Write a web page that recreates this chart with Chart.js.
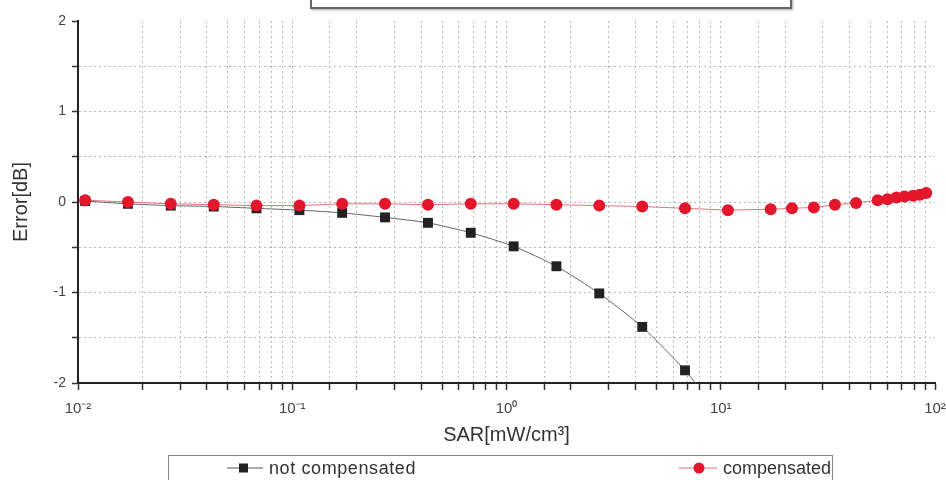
<!DOCTYPE html>
<html>
<head>
<meta charset="utf-8">
<script src="https://cdn.jsdelivr.net/npm/chart.js@4"></script>
<style>
	html, body { margin: 0; padding: 0; background: #fff; }
	#wrap { position: relative; width: 946px; height: 480px; overflow: hidden; font-family: "Liberation Sans", Arial, sans-serif; }
	#topBox { position: absolute; left: 310px; top: -12px; width: 478px; height: 17px; border: 2px solid #666; box-shadow: 1px 1px 2px #aaa; }
	#legendBox { position: absolute; left: 168px; top: 455px; width: 663px; height: 24px; border: 1px solid #888; }
	.item { position: absolute; top: 0; height: 24px; line-height: 24px; font-size: 18px; color: #333; white-space: nowrap; }
	.item svg { position: absolute; top: 2px; left: 0; }
	.item span { position: absolute; left: 44px; top: 0; }
</style>
</head>
<body>
<div id="wrap">
	<canvas id="errChart" width="946" height="480"></canvas>
	<div id="topBox"></div>
	<div id="legendBox">
		<div class="item" style="left:56px;">
			<svg width="40" height="20"><line x1="2" y1="10" x2="38" y2="10" stroke="#555" stroke-width="1.2"/><rect x="14" y="5.5" width="9" height="9" fill="#222"/></svg>
			<span style="letter-spacing:0.6px;">not compensated</span>
		</div>
		<div class="item" style="left:508px;">
			<svg width="44" height="20"><line x1="2" y1="10" x2="40" y2="10" stroke="#e8707a" stroke-width="1.2"/><circle cx="22" cy="10" r="5.5" fill="#e3162b"/></svg>
			<span style="left:46px;">compensated</span>
		</div>
	</div>
</div>
<script>
const sarNotComp = [0.0108, 0.0171, 0.0271, 0.0430, 0.0681, 0.108, 0.171, 0.271, 0.430, 0.681, 1.08, 1.71, 2.71, 4.30, 6.81, 10.8];
const errNotComp = [0.01, -0.02, -0.04, -0.05, -0.07, -0.09, -0.12, -0.17, -0.23, -0.34, -0.49, -0.71, -1.01, -1.38, -1.86, -2.45];

const sarComp = [0.0108, 0.0171, 0.0271, 0.0430, 0.0681, 0.108, 0.171, 0.271, 0.430, 0.681, 1.08, 1.71, 2.71, 4.30, 6.81,
	10.8, 17.1, 21.5, 27.2, 34.1, 42.8, 54, 60, 66, 72, 79, 85, 91];
const errComp = [0.02, 0.00, -0.02, -0.03, -0.04, -0.04, -0.02, -0.02, -0.03, -0.02, -0.02, -0.03, -0.04, -0.05, -0.07,
	-0.09, -0.08, -0.07, -0.06, -0.03, -0.01, 0.02, 0.03, 0.05, 0.06, 0.07, 0.08, 0.10];

// x축 라벨 (10의 거듭제곱만 표시)
const xTickLabels = { '-2': '10⁻²', '-1': '10⁻¹', '0': '10⁰', '1': '10¹', '2': '10²' };
const yTickValues = [-2, -1, 0, 1, 2];

const toPoints = (xs, ys) => xs.map((x, i) => ({ x: x, y: ys[i] }));

new Chart(document.getElementById('errChart'), {
	type: 'line',
	data: {
		datasets: [
			{
				label: 'not compensated',
				data: toPoints(sarNotComp, errNotComp),
				borderColor: '#666',
				backgroundColor: '#222',
				borderWidth: 1,
				pointStyle: 'rect',
				pointRadius: 7,
				pointBorderWidth: 0,
				tension: 0.2,
				order: 1
			},
			{
				label: 'compensated',
				data: toPoints(sarComp, errComp),
				borderColor: '#e8707a',
				backgroundColor: '#e3162b',
				borderWidth: 1,
				pointStyle: 'circle',
				pointRadius: 6,
				pointBorderWidth: 0,
				tension: 0,
				order: 0
			}
		]
	},
	options: {
		responsive: false,
		animation: false,
		devicePixelRatio: 1,
		layout: { padding: { top: 21, right: 11, bottom: 32, left: 0 } },
		plugins: {
			legend: { display: false },
			tooltip: { enabled: false }
		},
		scales: {
			x: {
				type: 'logarithmic',
				min: 0.01,
				max: 100,
				afterFit: function(s) { s.height = 65; s.paddingLeft = 0; s.paddingRight = 0; },
				grid: {
					color: function(ctx) {
						const v = ctx.tick ? ctx.tick.value : 0;
						return (v <= 0.01 || v >= 100) ? 'rgba(0,0,0,0)' : '#b8b8b8';
					},
					lineWidth: 1,
					tickColor: '#333',
					tickLength: 7,
					tickWidth: 1.5,
					tickBorderDash: []
				},
				border: { display: true, color: '#222', width: 2, dash: [2, 3] },
				ticks: {
					autoSkip: false,
					maxRotation: 0,
					padding: 10,
					color: '#444',
					font: { family: '"Liberation Sans", Arial', size: 15 },
					callback: function(value) {
						const l = Math.log10(value);
						if (Math.abs(l - Math.round(l)) < 1e-9) return xTickLabels[String(Math.round(l))];
						return '';
					}
				},
				title: {
					display: true,
					text: 'SAR[mW/cm³]',
					color: '#333',
					font: { family: '"Liberation Sans", Arial', size: 20 },
					padding: { top: 0, bottom: 1 }
				}
			},
			y: {
				min: -2,
				max: 2,
				afterFit: function(s) { s.width = 78; s.paddingTop = 0; s.paddingBottom = 0; },
				grid: {
					color: function(ctx) {
						const v = ctx.tick ? ctx.tick.value : 0;
						return (v >= 2 || v <= -2) ? 'rgba(0,0,0,0)' : '#b8b8b8';
					},
					lineWidth: 1,
					tickColor: '#333',
					tickLength: 6,
					tickWidth: 1.5,
					tickBorderDash: []
				},
				border: { display: true, color: '#222', width: 2, dash: [2, 3] },
				ticks: {
					stepSize: 0.5,
					padding: 6,
					color: '#444',
					font: { family: '"Liberation Sans", Arial', size: 14 },
					callback: function(value) {
						return yTickValues.includes(value) ? String(value) : '';
					}
				},
				title: {
					display: true,
					text: 'Error[dB]',
					color: '#333',
					font: { family: '"Liberation Sans", Arial', size: 20 },
					padding: { top: 9, bottom: 0 }
				}
			}
		}
	}
});
</script>
</body>
</html>
